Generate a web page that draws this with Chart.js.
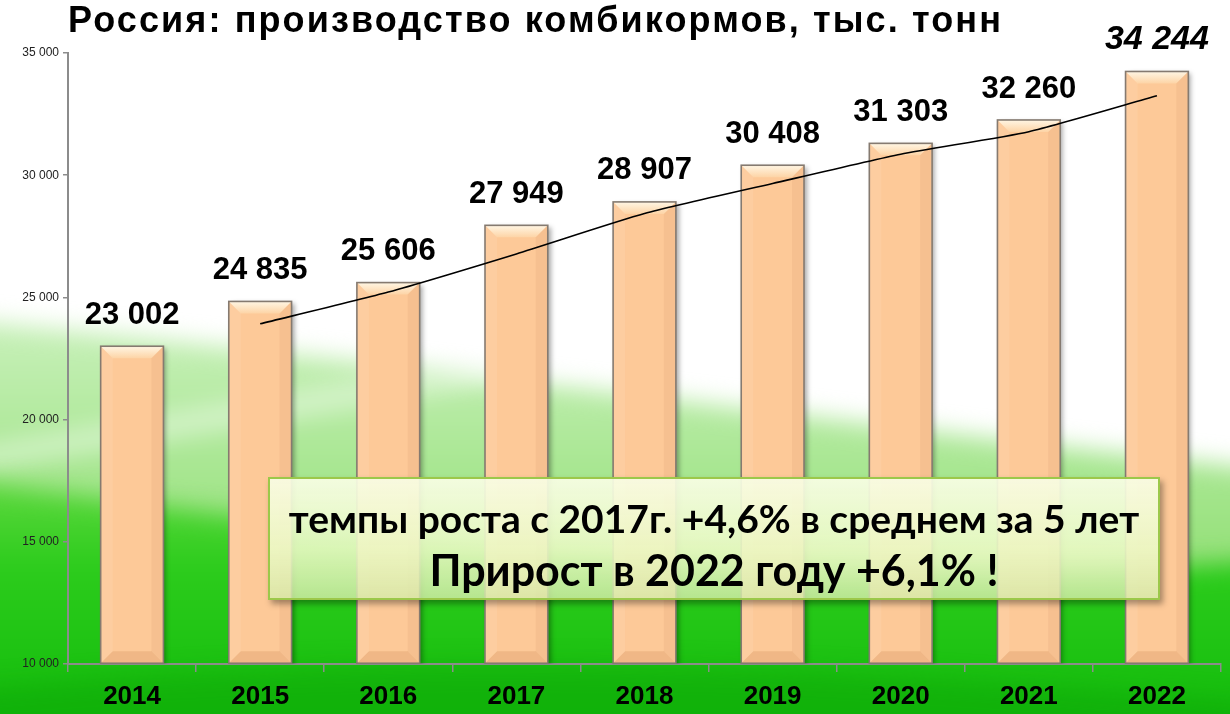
<!DOCTYPE html>
<html>
<head>
<meta charset="utf-8">
<script src="https://cdn.jsdelivr.net/npm/chart.js@4"></script>
<style>
  body { margin: 0; background: #fff; }
  #wrap { position: relative; width: 1230px; height: 714px; }
  #note {
    position: absolute; left: 268px; top: 477px; width: 888px; height: 119px;
    border: 2px solid #9cc84a;
    background: linear-gradient(to bottom, rgba(248,253,228,0.93) 0%, rgba(234,249,196,0.9) 60%, rgba(214,236,170,0.82) 100%);
    box-shadow: 3px 4px 6px rgba(0,0,0,0.35);
    font-family: Lato, "Open Sans", sans-serif; font-weight: bold; color: #000;
    text-align: center; white-space: nowrap;
  }
  #note .l1 { font-size: 39px; margin-top: 18px; line-height: 42px; }
  #note .l2 { font-size: 43px; margin-top: 8px; line-height: 46px; }
</style>
</head>
<body>
<div id="wrap">
  <canvas id="c" width="1230" height="714"></canvas>
  <div id="note">
    <div class="l1">темпы роста с 2017г. +4,6% в среднем за 5 лет</div>
    <div class="l2">Прирост в 2022 году +6,1% !</div>
  </div>
</div>
<script>
const years = ["2014", "2015", "2016", "2017", "2018", "2019", "2020", "2021", "2022"];
const production = [23002, 24835, 25606, 27949, 28907, 30408, 31303, 32260, 34244];
// trend line
const trend = [null, 23920, 25220, 26780, 28430, 29660, 30860, 31780, 33250];
const yTicks = [10000, 15000, 20000, 25000, 30000, 35000];
const title = "Россия: производство комбикормов, тыс. тонн";

const fmt = (v) => String(v).replace(/\B(?=(\d{3})+(?!\d))/g, " ");

const background = {
  id: "background",
  beforeDraw(chart) {
    const ctx = chart.ctx;
    const w = chart.width, h = chart.height;
    ctx.save();
    ctx.fillStyle = "#ffffff";
    ctx.fillRect(0, 0, w, h);
    ctx.filter = "blur(12px)";

    // light green wave
    let g = ctx.createLinearGradient(0, 300, 0, 600);
    g.addColorStop(0, "rgba(205,242,192,1)");
    g.addColorStop(1, "rgba(140,222,110,1)");
    ctx.fillStyle = g;
    ctx.beginPath();
    ctx.moveTo(-40, 320);
    ctx.bezierCurveTo(400, 360, 800, 420, w + 40, 470);
    ctx.lineTo(w + 40, h + 40); ctx.lineTo(-40, h + 40); ctx.closePath();
    ctx.fill();

    // white streak
    ctx.fillStyle = "rgba(255,255,255,0.45)";
    ctx.beginPath();
    ctx.moveTo(-40, 450);
    ctx.bezierCurveTo(300, 390, 600, 340, 900, 310);
    ctx.bezierCurveTo(600, 360, 300, 420, -40, 472);
    ctx.closePath();
    ctx.fill();

    // bright green
    g = ctx.createLinearGradient(0, 470, 0, h);
    g.addColorStop(0, "#66da44");
    g.addColorStop(0.4, "#2ccc1c");
    g.addColorStop(1, "#14bd0c");
    ctx.fillStyle = g;
    ctx.beginPath();
    ctx.moveTo(-40, 480);
    ctx.bezierCurveTo(350, 530, 800, 600, w + 40, 560);
    ctx.lineTo(w + 40, h + 40); ctx.lineTo(-40, h + 40); ctx.closePath();
    ctx.fill();

    // darker band near the bottom
    ctx.fillStyle = "rgba(10,160,5,0.4)";
    ctx.beginPath();
    ctx.moveTo(-40, 690);
    ctx.bezierCurveTo(400, 650, 800, 660, w + 40, 705);
    ctx.lineTo(w + 40, h + 40); ctx.lineTo(-40, h + 40); ctx.closePath();
    ctx.fill();
    ctx.filter = "none";

    // title
    ctx.fillStyle = "#000";
    ctx.font = "bold 36px 'Liberation Sans', Arial, sans-serif";
    ctx.textBaseline = "middle";
    ctx.textAlign = "left";
    const tw = ctx.measureText(title).width;
    ctx.letterSpacing = Math.max(0, (935 - tw) / title.length) + "px";
    ctx.fillText(title, 68, 22);
    ctx.restore();
  }
};

const barLook = {
  id: "barLook",
  beforeDatasetDraw(chart, args) {
    if (args.index !== 0) return;
    const ctx = chart.ctx;
    ctx.save();
    ctx.shadowColor = "rgba(0,0,0,0.35)";
    ctx.shadowOffsetX = 3;
    ctx.shadowOffsetY = 2;
    ctx.shadowBlur = 5;
  },
  afterDatasetDraw(chart, args) {
    if (args.index !== 0) return;
    const ctx = chart.ctx;
    ctx.restore();
    ctx.save();
    const meta = chart.getDatasetMeta(0);
    meta.data.forEach((el) => {
      const p = el.getProps(["x", "y", "base", "width"], true);
      const base = Math.min(p.base, chart.chartArea.bottom);
      const l = p.x - p.width / 2, r = p.x + p.width / 2, b = 12;
      // top bevel
      let g = ctx.createLinearGradient(0, p.y, 0, p.y + b);
      g.addColorStop(0, "#fff6e4");
      g.addColorStop(1, "#fdd4a6");
      ctx.fillStyle = g;
      ctx.beginPath();
      ctx.moveTo(l, p.y); ctx.lineTo(r, p.y); ctx.lineTo(r - b, p.y + b); ctx.lineTo(l + b, p.y + b);
      ctx.closePath(); ctx.fill();
      // bottom bevel
      ctx.fillStyle = "rgba(215,150,100,0.35)";
      ctx.beginPath();
      ctx.moveTo(l, base); ctx.lineTo(r, base); ctx.lineTo(r - b, base - b); ctx.lineTo(l + b, base - b);
      ctx.closePath(); ctx.fill();
      // sides
      ctx.fillStyle = "rgba(210,150,105,0.16)";
      ctx.beginPath();
      ctx.moveTo(r, p.y); ctx.lineTo(r - b, p.y + b); ctx.lineTo(r - b, base - b); ctx.lineTo(r, base);
      ctx.closePath(); ctx.fill();
      ctx.fillStyle = "rgba(255,235,210,0.14)";
      ctx.beginPath();
      ctx.moveTo(l, p.y); ctx.lineTo(l + b, p.y + b); ctx.lineTo(l + b, base - b); ctx.lineTo(l, base);
      ctx.closePath(); ctx.fill();
      ctx.strokeStyle = "#857a70";
      ctx.lineWidth = 1.6;
      ctx.strokeRect(l, p.y, p.width, base - p.y);
    });
    ctx.restore();
  }
};

const valueLabels = {
  id: "valueLabels",
  afterDraw(chart) {
    const ctx = chart.ctx;
    const meta = chart.getDatasetMeta(0);
    ctx.save();
    ctx.fillStyle = "#000";
    ctx.textAlign = "center";
    ctx.textBaseline = "middle";
    meta.data.forEach((el, i) => {
      const last = i === production.length - 1;
      ctx.font = last ? "italic bold 34px 'Liberation Sans', Arial, sans-serif"
                      : "bold 31px 'Liberation Sans', Arial, sans-serif";
      ctx.fillText(fmt(production[i]), el.x, el.y - (last ? 32 : 31));
    });
    ctx.restore();
  }
};

new Chart(document.getElementById("c"), {
  data: {
    labels: years,
    datasets: [
      {
        type: "bar",
        data: production,
        base: 10000,
        backgroundColor: "#fdc998",
        borderWidth: 0,
        barPercentage: 0.49,
        categoryPercentage: 1,
        order: 1
      },
      {
        type: "line",
        data: trend,
        borderColor: "#000",
        borderWidth: 1.6,
        pointRadius: 0,
        tension: 0.2,
        fill: false,
        order: 0
      }
    ]
  },
  options: {
    responsive: false,
    animation: false,
    layout: { padding: { top: 53, right: 9, left: 0, bottom: 0 } },
    plugins: { legend: { display: false }, tooltip: { enabled: false } },
    scales: {
      x: {
        grid: { offset: true, drawOnChartArea: false, drawTicks: true, tickLength: 8, color: "#8c8c8c", lineWidth: 1.5 },
        border: { color: "#8c8c8c", width: 2 },
        ticks: { color: "#000", padding: 9, font: { family: "'Liberation Sans', Arial", size: 26, weight: "bold" } },
        afterFit: (s) => { s.height = 50; }
      },
      y: {
        min: 10000,
        max: 35000,
        afterBuildTicks: (s) => { s.ticks = yTicks.map((v) => ({ value: v })); },
        grid: { drawOnChartArea: false, drawTicks: true, tickLength: 5, color: "#8c8c8c", lineWidth: 1.5 },
        border: { color: "#8c8c8c", width: 2 },
        ticks: { color: "#222", padding: 4, font: { family: "'Liberation Sans', Arial", size: 12 }, callback: (v) => fmt(v) },
        afterFit: (s) => { s.width = 68; }
      }
    }
  },
  plugins: [background, barLook, valueLabels]
});
</script>
</body>
</html>
